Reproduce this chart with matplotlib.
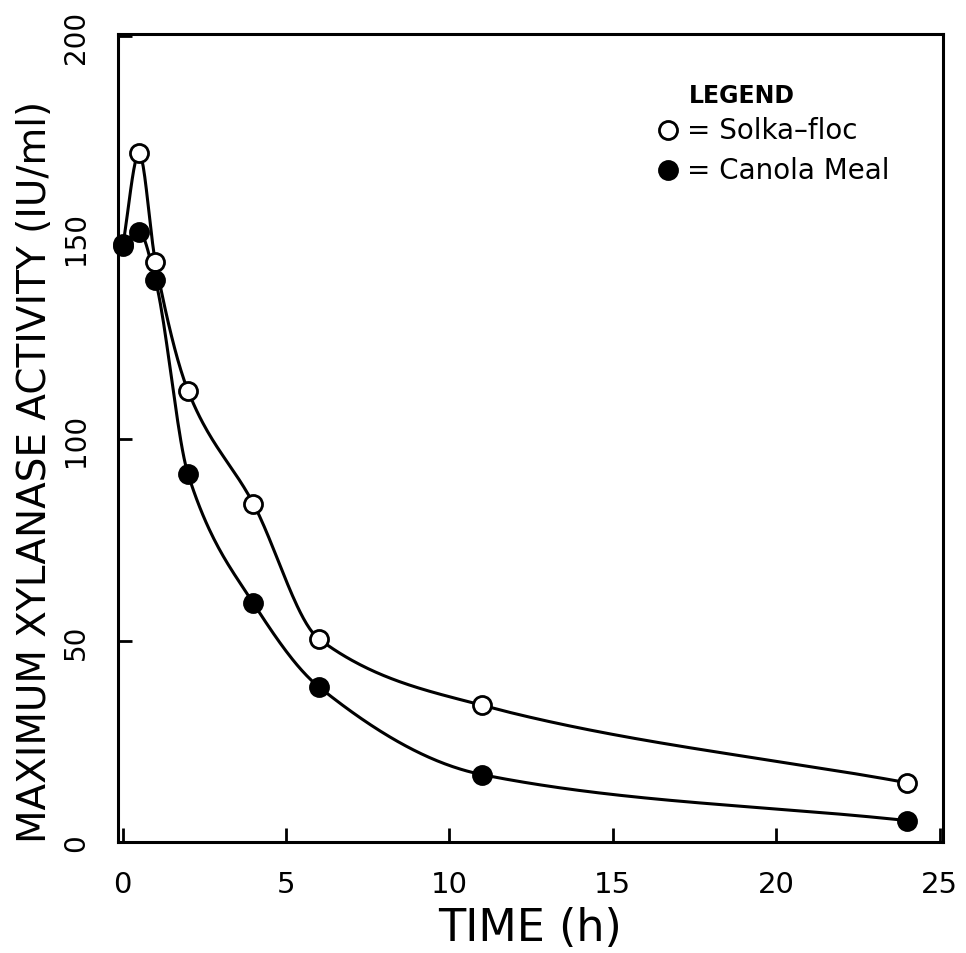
import matplotlib
matplotlib.use("Agg")
import matplotlib.pyplot as plt
import numpy as np

# data
time_h = [0, 0.5, 1, 2, 4, 6, 11, 24]
solka_floc = [148, 171, 144, 112, 84, 50.5, 34, 14.8]
canola_meal = [148.5, 151.5, 139.5, 91.3, 59.3, 38.6, 16.8, 5.4]

XTICKS = [0, 5, 10, 15, 20, 25]
YTICKS = [0, 50, 100, 150, 200]

FONT = ["Liberation Sans Narrow", "DejaVu Sans"]


def smooth_line(x, y, n=500):
    # monotone cubic (pchip) curve, only used to draw the connecting line
    x = np.asarray(x, float)
    y = np.asarray(y, float)
    h = np.diff(x)
    d = np.diff(y) / h
    m = np.zeros_like(y)
    for i in range(1, len(x) - 1):
        if d[i - 1] * d[i] > 0:
            w1 = 2 * h[i] + h[i - 1]
            w2 = h[i] + 2 * h[i - 1]
            m[i] = (w1 + w2) / (w1 / d[i - 1] + w2 / d[i])
    m[0] = d[0]
    m[-1] = d[-1]
    xs = np.linspace(x[0], x[-1], n)
    idx = np.clip(np.searchsorted(x, xs) - 1, 0, len(x) - 2)
    hh = h[idx]
    t = (xs - x[idx]) / hh
    h00 = 2 * t**3 - 3 * t**2 + 1
    h10 = t**3 - 2 * t**2 + t
    h01 = -2 * t**3 + 3 * t**2
    h11 = t**3 - t**2
    ys = h00 * y[idx] + h10 * hh * m[idx] + h01 * y[idx + 1] + h11 * hh * m[idx + 1]
    return xs, ys


fig = plt.figure(figsize=(9.66, 9.54), dpi=100)
ax = fig.add_axes([0.122, 0.116, 0.854, 0.847])

for vals, face in [(solka_floc, "white"), (canola_meal, "black")]:
    sx, sy = smooth_line(time_h, vals)
    ax.plot(sx, sy, color="black", lw=2.2, zorder=2)
    ax.plot(time_h, vals, ls="none", marker="o", ms=13, mfc=face,
            mec="black", mew=2, zorder=3, clip_on=False)

ax.set_xlim(-0.15, 25.1)
ax.set_ylim(0, 200.5)
ax.set_xticks(XTICKS)
ax.set_yticks(YTICKS)
ax.tick_params(direction="in", length=10, width=2, top=False, right=False,
               labelsize=21)
ax.tick_params(axis="x", pad=20)
ax.tick_params(axis="y", pad=20, labelsize=20)
for lab in ax.get_yticklabels():
    lab.set_rotation(90)
    lab.set_va("center")
for lab in ax.get_xticklabels() + ax.get_yticklabels():
    lab.set_family(FONT)
for s in ax.spines.values():
    s.set_linewidth(2.2)

ax.set_xlabel("TIME (h)", fontsize=32, family=FONT, labelpad=6)
ax.set_ylabel("MAXIMUM XYLANASE ACTIVITY (IU/ml)", fontsize=28, family=FONT)
ax.yaxis.set_label_coords(-0.077, 0.46)

# hand-drawn legend in the upper right
ax.text(0.757, 0.925, "LEGEND", transform=ax.transAxes, fontsize=17,
        family=FONT, fontweight="bold", ha="center", va="center")
ax.plot([0.667], [0.881], transform=ax.transAxes, marker="o", ms=13,
        mfc="white", mec="black", mew=2)
ax.plot([0.667], [0.832], transform=ax.transAxes, marker="o", ms=13,
        mfc="black", mec="black", mew=2)
ax.text(0.69, 0.881, "= Solka\u2013floc", transform=ax.transAxes, fontsize=20,
        family=FONT, ha="left", va="center")
ax.text(0.69, 0.832, "= Canola Meal", transform=ax.transAxes, fontsize=20,
        family=FONT, ha="left", va="center")

fig.savefig("out.png", dpi=100)
